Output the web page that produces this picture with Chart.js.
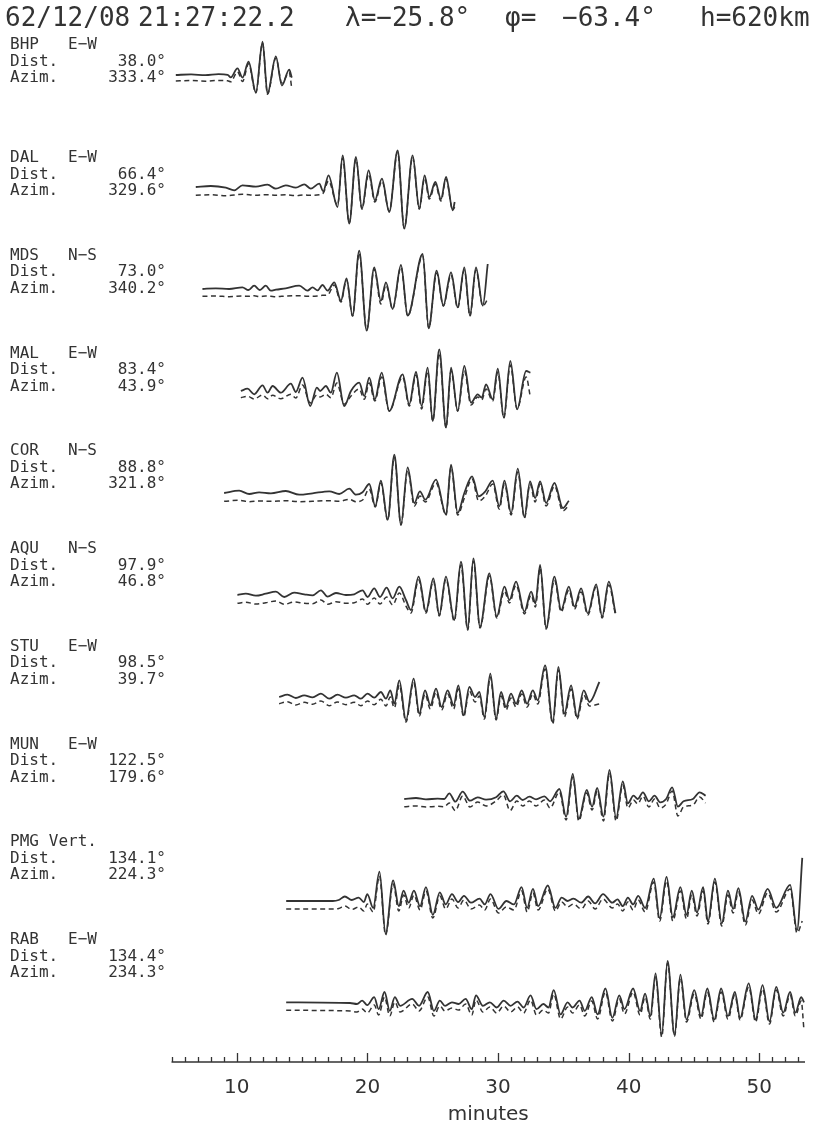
<!DOCTYPE html>
<html><head><meta charset="utf-8">
<script src="https://cdn.jsdelivr.net/npm/chart.js@4.4.1/dist/chart.umd.min.js"></script>
<style>html,body{margin:0;padding:0;background:#fff;}#wrap{width:818px;height:1137px;}</style>
</head><body><div id="wrap"><canvas id="c" width="818" height="1137"></canvas></div>
<script>
// ---- header / labels ----
const titleParts = ["62/12/08", "21:27:22.2", "λ=−25.8°", "φ=", "−63.4°", "h=620km"];
const stations   = ["BHP","DAL","MDS","MAL","COR","AQU","STU","MUN","PMG","RAB"];
const components = ["E−W","E−W","N−S","E−W","N−S","N−S","E−W","E−W","Vert.","E−W"];
const distances  = ["38.0","66.4","73.0","83.4","88.8","97.9","98.5","122.5","134.1","134.4"];
const azimuths   = ["333.4","329.6","340.2","43.9","321.8","46.8","39.7","179.6","224.3","234.3"];
const xTickValues = [10,20,30,40,50];
const xAxisTitle = "minutes";

// ---- traces: time (minutes), observed (solid) and synthetic (dashed) amplitudes ----
const bhpTime = [5.33,6.5,7.6,8.6,9.3,9.54,10.05,10.44,10.90,11.46,11.97,12.35,12.99,13.45,14.01,14.21];
const bhpObs  = [0,0.6,-0.2,0.8,0.2,-2.4,6.6,-2.6,13.4,-17.4,33.4,-18.6,18.6,-10.6,5.4,-2.6];
const bhpSyn  = [-6,-5.6,-6.2,-5.4,-5.8,-6.8,3.2,-6.4,11.2,-18,32,-19.2,16.8,-8,2.4,-13.6];

const dalTime = [6.86,8.01,9.16,9.80,10.43,11.46,12.35,12.99,13.75,14.52,15.16,15.67,16.31,16.62,17.02,17.71,18.10,18.61,19.12,19.58,20.09,20.57,21.11,21.67,22.31,22.82,23.46,23.97,24.38,24.74,25.20,25.63,26.02,26.53,26.68];
const dalObs  = [0,1,-0.7,-3.3,1.7,0.3,2.3,-1.7,1.7,-0.7,2.7,-1.7,3.3,-4.3,11.7,-20,31.7,-36.7,30,-21.7,16.7,-13.3,8.3,-25,36.7,-41.7,31.7,-21.7,11.7,-10,5,-12.3,10,-23.3,-15];
const dalSyn  = [-8.3,-7.7,-8.7,-8,-7.3,-8.3,-7.7,-8.3,-7.7,-8.7,-8,-8.3,-7.7,-6,6,-18,29,-36,28,-22,13,-15,6,-24,35,-41,30,-22,9,-12,3,-14,8,-23,-20];

const mdsTime = [7.37,8.39,9.41,10.43,10.89,11.33,11.76,12.22,12.60,12.99,13.75,14.78,15.41,15.80,16.18,16.56,16.95,17.46,17.97,18.40,18.86,19.37,19.94,20.52,21.03,21.42,21.93,22.57,23.08,24.23,24.69,25.30,25.81,26.40,26.91,27.42,27.85,28.31,28.83,29.21];
const mdsObs  = [0,0.7,0,1.7,-1,3.3,-1,3.3,-1.7,-0.7,0.7,3.3,-1.7,1.7,-1.3,4,-1.7,6.7,-11.7,10.7,-26.7,38.3,-41.7,21.7,-11.7,6.7,-20,24,-26.7,35,-39.3,18.3,-16.7,16.7,-18.3,21.7,-26.7,21.7,-16.7,25];
const mdsSyn  = [-7.3,-7,-7.7,-7,-7.3,-6.7,-7.7,-7,-7.3,-7.7,-7,-6.7,-7.3,-7.3,-7,-6.3,-6,4,-13,9,-27,36,-41,20,-15,4,-20,22,-27,33,-39,16,-17,14,-19,19,-27,19,-17,-10];

const malTime = [10.31,10.82,11.33,11.97,12.35,12.74,13.37,14.14,14.52,15.03,15.62,16.13,16.38,16.82,17.20,17.66,18.22,18.74,19.37,19.76,20.14,20.57,21.09,21.67,22.70,23.20,23.72,24.15,24.61,25.00,25.50,26.02,26.40,26.91,27.42,27.93,28.44,28.75,29.08,29.59,29.98,30.44,30.94,31.46,32.15,32.48];
const malObs  = [0,2.3,-3.3,5.7,-1.7,5,-1.7,7.3,-1,13.3,-15,3.3,0,5,-1.7,18.3,-15,0,8.3,-5,13.3,-8.3,18.3,-20,16.7,-13.3,19,-15,23.3,-30,41.7,-36.7,23.3,-20,25,-11.7,-3.3,-6.7,6.7,-8.3,22.3,-26.7,30,-18.3,20,18.3];
const malSyn  = [-6.7,-5.3,-8,-4,-7.7,-4.3,-7.7,-3.3,-7,6,-12,-4,-6,-3.3,-6.7,8,-13.3,-5,2,-8.3,8,-10,14,-20,14,-15,16,-18,20,-30,38,-37,20,-20,20,-14,-6,-9,2,-10,19,-27,26,-18,14,-6.7];

const corTime = [9.03,10.18,10.95,11.71,12.61,13.75,14.78,15.80,17.08,17.84,18.61,19.12,19.63,20.14,20.60,21.03,21.55,22.06,22.57,23.08,23.59,24.02,24.43,25.25,26.02,26.40,26.91,27.42,28.01,28.52,29.03,29.59,30.10,30.49,31.00,31.51,32.02,32.45,32.84,33.22,33.68,34.32,34.96,35.42];
const corObs  = [0,2.3,-1,0.7,-0.3,2,-1.7,-0.3,1.7,-1,4.3,-1.7,0.7,9,-13.3,12.3,-26.7,38.3,-31.7,25.7,-10,1.7,-6.7,13.3,-21.7,28.3,-20,0,16.7,-3.3,1.7,12.3,-13.3,12.3,-20,24.3,-24.3,11.7,-5,11.7,-10,10,-15,-7.7];
const corSyn  = [-8.3,-7.3,-8.7,-8,-8.3,-7.7,-8.7,-8.3,-7.7,-8.3,-6.3,-8.7,-7,4,-14,10,-27,36,-32,23,-13,-3,-9,10,-22,26,-22,-5,14,-8,-3,9,-16,9,-22,21,-25,9,-9,9,-13,7,-18,-12];

const aquTime = [10.05,10.69,11.46,12.22,12.99,13.63,14.39,15.16,15.80,16.44,16.95,17.59,18.35,18.99,19.63,20.01,20.52,20.96,21.47,21.93,22.44,22.95,23.33,23.92,24.48,25.05,25.50,26.01,26.65,27.16,27.68,28.11,28.62,29.34,29.90,30.49,30.87,31.38,32.02,32.53,32.86,33.22,33.68,34.32,34.83,35.42,35.85,36.36,36.87,37.51,37.97,38.48,38.99];
const aquObs  = [0,1.3,-0.7,1.3,3.3,-2,2.3,0.7,-0.3,4.7,-1.7,2,0,0.7,4.7,-2,6.7,-2,7.3,-3.3,8.3,-5,-15,18.3,-16.7,16.7,-20,18.3,-25,33.3,-34,36.7,-31.7,21.7,-21.7,8.3,-5,13.3,-16.7,3.3,-8.3,30,-33.3,18.3,-15,8.3,-11.7,6.7,-18.3,10.7,-21.7,13.3,-18.3];
const aquSyn  = [-8.3,-7.3,-9,-7.7,-6,-9.3,-7,-8.3,-8.7,-5,-9.3,-6.7,-8.3,-7.7,-4,-9.3,-3,-9,-2,-10,2,-11,-18,15,-18,14,-21,16,-26,30,-35,34,-33,19,-23,4,-8,10,-19,0,-12,27,-34,15,-17,5,-14,3,-20,8,-23,10,-20];

const stuTime = [13.24,13.88,14.52,15.16,15.80,16.44,17.07,17.71,18.35,18.99,19.50,20.01,20.52,21.03,21.42,21.75,22.06,22.44,22.95,23.54,23.97,24.41,24.82,25.25,25.68,26.14,26.60,26.96,27.37,27.80,28.24,28.57,28.95,29.41,29.85,30.23,30.61,30.99,31.38,31.81,32.22,32.66,33.04,33.60,34.19,34.62,35.08,35.59,36.05,36.56,37.00,37.76];
const stuObs  = [0,2.3,-1,1.7,-0.3,3.3,-1.7,2.3,-0.7,1.7,-1.7,3.3,-0.7,5,-1.7,6.7,-6.7,16.7,-23.3,18.3,-16.7,6.7,-8.3,8.3,-10,6.7,-8.3,11.7,-18.3,10,0,5,-20,23.3,-21.7,5,-10,3.3,-6.7,6.7,-6.7,6.7,-3.3,31.7,-25,30,-16.7,11.7,-20,6.7,-5,15];
const stuSyn  = [-6.7,-4.7,-8,-5.3,-7.3,-4,-8.7,-5,-7.7,-5.3,-8.7,-4,-7.7,-2.3,-9,0,-11,12,-25,15,-19,3,-12,5,-13,3,-12,8,-20,6,-5,1,-22,20,-23,1,-13,-1,-10,3,-10,3,-7,28,-27,27,-20,8,-22,2,-9,-7];

const munTime = [22.82,23.72,24.48,25.38,25.89,26.27,26.73,27.29,27.85,28.44,29.08,29.85,30.41,30.92,31.43,31.89,32.40,32.91,33.55,33.98,34.70,35.21,35.72,36.18,36.79,37.20,37.59,38.07,38.53,39.04,39.55,39.94,40.37,40.70,41.09,41.55,41.98,42.41,42.87,43.33,43.77,44.20,44.92,45.43,45.89];
const munObs  = [0,1,-0.3,0.3,0,5.7,-2.7,7.3,-1.7,1.7,-0.7,1.7,7.7,-2.3,3.3,-1,2.3,-0.3,2.7,-2.3,10,-17.7,25,-20,9,-7.7,11,-17.7,29,-19,17.7,-4.3,3.3,0,6.7,-2.3,3.3,-3.3,0,11.7,-7.7,-2.3,0,6.7,3.3];
const munSyn  = [-7.7,-7,-8,-7.3,-7.7,-4,-11.7,3,-8,-3,-7,-2,4,-11.7,-2,-7,-2,-7,-1,-9,7,-21,22,-22,6,-11,8,-22,26,-22,14,-9,-1,-5,3,-8,0,-9,-5,8,-17,-8,-6,2,-4];

const pmgTime = [13.78,17.35,17.80,18.27,18.80,19.33,19.73,19.99,20.44,20.92,21.39,21.97,22.40,22.77,23.16,23.56,24.03,24.48,25.01,25.54,25.99,26.47,26.94,27.39,27.92,28.58,28.98,29.42,30.03,30.64,31.22,31.80,32.23,32.67,33.07,33.81,34.39,34.87,35.32,35.77,36.37,36.90,37.43,38.04,38.75,39.15,39.55,39.94,40.34,40.73,41.26,41.92,42.37,42.90,43.38,43.96,44.43,44.83,45.23,45.70,46.07,46.60,47.13,47.60,48.00,48.40,48.93,49.45,49.93,50.64,51.30,52.36,52.89,53.29];
const pmgObs  = [0,0,1,4.5,1,3.4,-1,6.9,-6.9,29.3,-32.8,20.7,-5.2,10.3,-1.7,10.3,-5.2,13.8,-13.8,8.6,-3.4,6.9,-1,5.2,-1.7,2.4,-3.4,6.9,-7.9,0,-3.4,13.8,-6.9,12.1,-5.2,15.5,-6.9,3.4,0,2.4,-1.7,4.5,-2.4,6.9,-1.7,1.7,-5.2,3.4,-3.4,5.2,-6.9,22.4,-17.2,24.1,-16.2,13.8,-13.8,10.3,-11.4,13.8,-20.7,22.4,-22.4,10.3,-7.9,12.8,-20.7,5.2,-8.6,12.1,-6.9,16.2,-29.3,43.1];
const pmgSyn  = [-8,-8,-7.5,-5,-8.5,-6,-10,-3,-11,25,-34,17,-10,6,-7,6,-9,10,-17,5,-8,2,-7,1,-8,-4,-9,2,-12,-6,-9,10,-11,8,-9,12,-10,-1,-6,-3,-8,0,-8,2,-7,-3,-10,-1,-9,1,-11,19,-20,20,-20,10,-18,6,-15,10,-23,19,-25,6,-12,9,-24,1,-13,8,-11,12,-32,-20];

const rabTime = [13.78,18.67,19.20,19.60,19.99,20.52,20.86,21.31,21.71,22.10,22.50,23.43,23.95,24.62,25.09,25.54,25.94,26.47,26.99,27.52,27.99,28.31,28.84,29.37,29.90,30.43,30.96,31.49,31.96,32.49,32.94,33.47,33.86,34.26,34.79,35.32,35.71,36.24,36.64,37.17,37.62,38.22,38.75,39.28,39.68,40.34,40.87,41.26,41.66,42.06,42.53,42.98,43.51,43.96,44.43,45.02,45.54,46.02,46.55,47.08,47.60,48.13,48.53,49.19,49.72,50.25,50.78,51.30,51.83,52.36,52.76,53.21,53.42];
const rabObs  = [0.7,0,-1,2.4,-2.1,5.9,-6.2,11,-7.9,5.9,-2.8,4.1,-2.8,11,-7.9,2.4,-2.8,0.7,-1,4.1,-6.2,7.6,-2.8,0.7,-4.5,2.4,-2.8,1.4,-4.5,7.6,-6.2,-1,-4.5,12.8,-11.4,0.7,-4.5,2.4,-7.9,5.9,-11.4,14.5,-14.8,7.6,-6.2,14.5,-7.9,9.3,-13.1,29.7,-32.1,42.1,-32.1,28.3,-16.6,12.8,-13.1,14.5,-16.6,14.5,-13.1,11,-14.8,19.7,-16.6,17.9,-18.3,16.2,-9.7,11,-9.7,5.9,0.7];
const rabSyn  = [-7.3,-8,-9,-6,-10,-2,-12,6,-13,1,-9,-1,-8,6,-13,-3,-8,-5,-7,-1,-12,3,-9,-4,-10,-3,-9,-4,-10,3,-12,-7,-10,9,-16,-4,-10,-2,-13,2,-16,11,-18,4,-11,11,-12,6,-16,26,-34,40,-33,25,-19,9,-16,11,-19,11,-16,8,-17,16,-19,14,-21,13,-13,8,-13,2,-27];

const traceTimes = [bhpTime,dalTime,mdsTime,malTime,corTime,aquTime,stuTime,munTime,pmgTime,rabTime];
const traceObs   = [bhpObs,dalObs,mdsObs,malObs,corObs,aquObs,stuObs,munObs,pmgObs,rabObs];
const traceSyn   = [bhpSyn,dalSyn,mdsSyn,malSyn,corSyn,aquSyn,stuSyn,munSyn,pmgSyn,rabSyn];

// ---- layout / style ----
const traceOffsets = [10, -102, -204, -306, -408, -510, -612, -714, -816, -918]; // vertical baselines (amplitude units)
const labelRows = [45, 158, 255.75, 353.5, 451.25, 549, 646.75, 744.5, 842.25, 940]; // px, first text line of each block
const INK = '#333';
const SANS = '"DejaVu Sans", sans-serif';
const MONO = '"DejaVu Sans Mono", monospace';

const datasets = [];
traceTimes.forEach((T, i) => {
  const off = traceOffsets[i];
  datasets.push({
    label: stations[i] + ' obs',
    data: T.map((t, k) => ({x: t, y: traceObs[i][k] + off})),
    borderColor: INK, borderWidth: 1.8, borderDash: []
  });
  datasets.push({
    label: stations[i] + ' syn',
    data: T.map((t, k) => ({x: t, y: traceSyn[i][k] + off})),
    borderColor: INK, borderWidth: 1.5, borderDash: [5, 3.5]
  });
});

const decor = {
  id: 'decor',
  afterDraw(chart) {
    const {ctx, chartArea, scales: {x}} = chart;
    ctx.save();
    ctx.fillStyle = INK;
    ctx.strokeStyle = INK;
    ctx.textBaseline = 'middle';
    // title
    ctx.font = '26px ' + MONO;
    ctx.textAlign = 'left';
    const titleX = [5, 138, 345, 505, 562, 700];
    titleParts.forEach((p, k) => ctx.fillText(p, titleX[k], 19));
    // station labels
    ctx.font = '16px ' + MONO;
    stations.forEach((s, i) => {
      const r = labelRows[i];
      ctx.textAlign = 'left';
      ctx.fillText(s, 10, r);
      ctx.fillText('Dist.', 10, r + 16.5);
      ctx.fillText('Azim.', 10, r + 33);
      ctx.textAlign = 'right';
      ctx.fillText(components[i], 97, r);
      ctx.fillText(distances[i] + '°', 166, r + 16.5);
      ctx.fillText(azimuths[i] + '°', 166, r + 33);
    });
    // x axis line with upward ticks
    const yb = chartArea.bottom;
    ctx.lineWidth = 1.3;
    ctx.beginPath();
    ctx.moveTo(x.getPixelForValue(x.min), yb);
    ctx.lineTo(x.getPixelForValue(x.max), yb);
    for (let m = Math.ceil(x.min); m <= x.max; m++) {
      const px = Math.round(x.getPixelForValue(m)) + 0.5;
      const len = (m % 10 === 0) ? 9 : 5;
      ctx.moveTo(px, yb);
      ctx.lineTo(px, yb - len);
    }
    ctx.stroke();
    ctx.restore();
  }
};

new Chart(document.getElementById('c'), {
  type: 'line',
  data: {datasets},
  options: {
    responsive: false,
    animation: false,
    layout: {padding: {left: 171.5, right: 13, top: 0, bottom: 0}},
    elements: {point: {radius: 0}, line: {cubicInterpolationMode: 'monotone', fill: false}},
    plugins: {legend: {display: false}, tooltip: {enabled: false}},
    scales: {
      x: {
        type: 'linear', min: 5, max: 53.5,
        grid: {display: false, drawTicks: false},
        border: {display: false},
        afterBuildTicks: (s) => { s.ticks = xTickValues.map(v => ({value: v})); },
        afterFit: (s) => { s.height = 75; },
        ticks: {color: INK, font: {family: SANS, size: 20}, padding: 14, maxRotation: 0, autoSkip: false},
        title: {display: true, text: xAxisTitle, color: INK, font: {family: SANS, size: 20}, padding: {top: 0, bottom: 10}}
      },
      y: {type: 'linear', display: false, min: -977, max: 85}
    }
  },
  plugins: [decor]
});
</script>
</body></html>
